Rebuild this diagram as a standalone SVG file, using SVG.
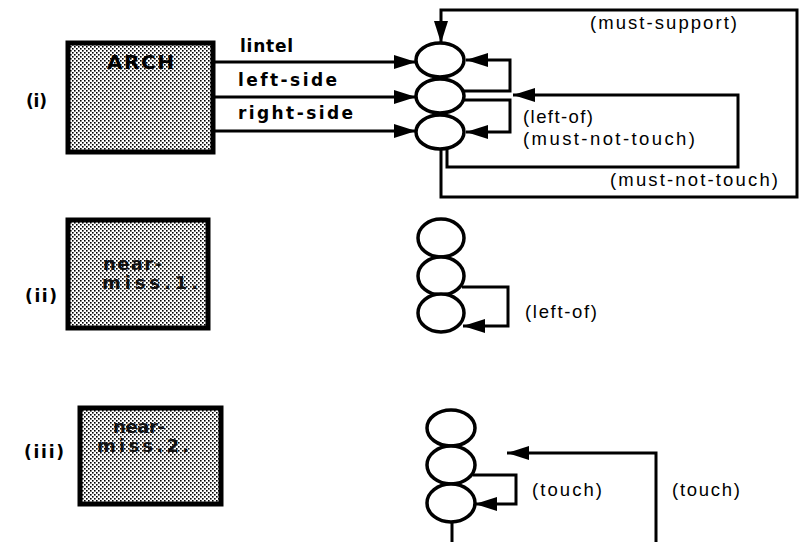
<svg xmlns="http://www.w3.org/2000/svg" width="800" height="542" viewBox="0 0 800 542">
<style>
.bg{fill:#fff}
.box{fill:url(#stip);stroke:#000;stroke-width:5}
.obj{fill:#fff;stroke:#000;stroke-width:3.5}
.ln{fill:none;stroke:#000;stroke-width:3;stroke-linejoin:miter}
.arr{marker-end:url(#ah)}
.lab{font-family:"Liberation Sans",Arial,sans-serif;font-size:18.5px;fill:#000}
.bold{font-family:"DejaVu Sans","Liberation Sans",sans-serif;font-weight:bold;font-size:17px;fill:#000}
.title{font-family:"DejaVu Sans","Liberation Sans",sans-serif;font-weight:bold;font-size:20px;fill:#000}
.btxt{font-family:"DejaVu Sans","Liberation Sans",sans-serif;font-weight:bold;font-size:18px;fill:#111}
.roman{font-family:"DejaVu Sans","Liberation Sans",sans-serif;font-weight:bold;font-size:17px;fill:#000}
</style>
<defs>
<pattern id="stip" width="4" height="4" patternUnits="userSpaceOnUse">
<rect width="4" height="4" fill="#fff"/>
<rect x="0" y="0" width="1.6" height="1.6" fill="#000"/>
<rect x="2" y="2" width="1.6" height="1.6" fill="#000"/>
</pattern>
<marker id="ah" viewBox="0 0 22 14" refX="22" refY="7" markerWidth="22" markerHeight="14" markerUnits="userSpaceOnUse" orient="auto">
<path d="M0,0 L22,7 L0,14 Z" fill="#000"/>
</marker>
</defs>
<rect class="bg" width="800" height="542"/>

<g id="connectors">
<path class="ln arr" d="M213,62 H416"/>
<path class="ln arr" d="M213,97 H416"/>
<path class="ln arr" d="M213,131 H416"/>
<path class="ln arr" d="M441,149 V197 H797 V10 H441 V43"/>
<path class="ln arr" d="M447,148 V167 H738 V95 H513"/>
<path class="ln arr" d="M462,91 H510 V60 H466"/>
<path class="ln arr" d="M462,100 H510 V132 H466"/>
<path class="ln arr" d="M462,287 H508 V326 H463"/>
<path class="ln arr" d="M473,475 H516 V504 H475"/>
<path class="ln arr" d="M656,542 V453 H507"/>
<path class="ln" d="M452,522 V542"/>
</g>

<g id="labels">
<text class="roman" x="26" y="107" textLength="21" lengthAdjust="spacing">(i)</text>
<text class="roman" x="25" y="302" textLength="32" lengthAdjust="spacing">(ii)</text>
<text class="roman" x="24" y="458" textLength="40" lengthAdjust="spacing">(iii)</text>
<text class="bold" x="240" y="52" textLength="53" lengthAdjust="spacing">lintel</text>
<text class="bold" x="238" y="86" textLength="99" lengthAdjust="spacing">left-side</text>
<text class="bold" x="238" y="119" textLength="115" lengthAdjust="spacing">right-side</text>
<text class="lab" x="590" y="29" textLength="147" lengthAdjust="spacing">(must-support)</text>
<text class="lab" x="523" y="123" textLength="70" lengthAdjust="spacing">(left-of)</text>
<text class="lab" x="523" y="145" textLength="172" lengthAdjust="spacing">(must-not-touch)</text>
<text class="lab" x="610" y="186" textLength="168" lengthAdjust="spacing">(must-not-touch)</text>
<text class="lab" x="525" y="318" textLength="72" lengthAdjust="spacing">(left-of)</text>
<text class="lab" x="532" y="496" textLength="70" lengthAdjust="spacing">(touch)</text>
<text class="lab" x="672" y="496" textLength="68" lengthAdjust="spacing">(touch)</text>
</g>

<g id="arch">
<rect class="box" x="68" y="43" width="145" height="109"/>
<text class="title" x="107" y="69" textLength="67" lengthAdjust="spacing">ARCH</text>
</g>
<g id="arch-objects">
<ellipse class="obj" cx="440" cy="60" rx="24" ry="17"/>
<ellipse class="obj" cx="440" cy="96" rx="24" ry="17"/>
<ellipse class="obj" cx="440" cy="132" rx="24" ry="17"/>
</g>

<g id="near-miss-1">
<rect class="box" x="68" y="220" width="140" height="108"/>
<text class="btxt" x="103" y="270" textLength="59" lengthAdjust="spacing">near-</text>
<text class="btxt" x="102" y="289" textLength="96" lengthAdjust="spacing">miss.1.</text>
</g>
<g id="near-miss-1-objects">
<ellipse class="obj" cx="441" cy="238" rx="23" ry="19"/>
<ellipse class="obj" cx="441" cy="276" rx="23" ry="19"/>
<ellipse class="obj" cx="441" cy="313" rx="23" ry="19"/>
</g>

<g id="near-miss-2">
<rect class="box" x="80" y="408" width="141" height="96"/>
<text class="btxt" x="113" y="433" textLength="52" lengthAdjust="spacing">near-</text>
<text class="btxt" x="97" y="452" textLength="92" lengthAdjust="spacing">miss.2.</text>
</g>
<g id="near-miss-2-objects">
<ellipse class="obj" cx="451" cy="428" rx="24" ry="18"/>
<ellipse class="obj" cx="451" cy="465" rx="24" ry="19"/>
<ellipse class="obj" cx="451" cy="503" rx="24" ry="19"/>
</g>
</svg>
